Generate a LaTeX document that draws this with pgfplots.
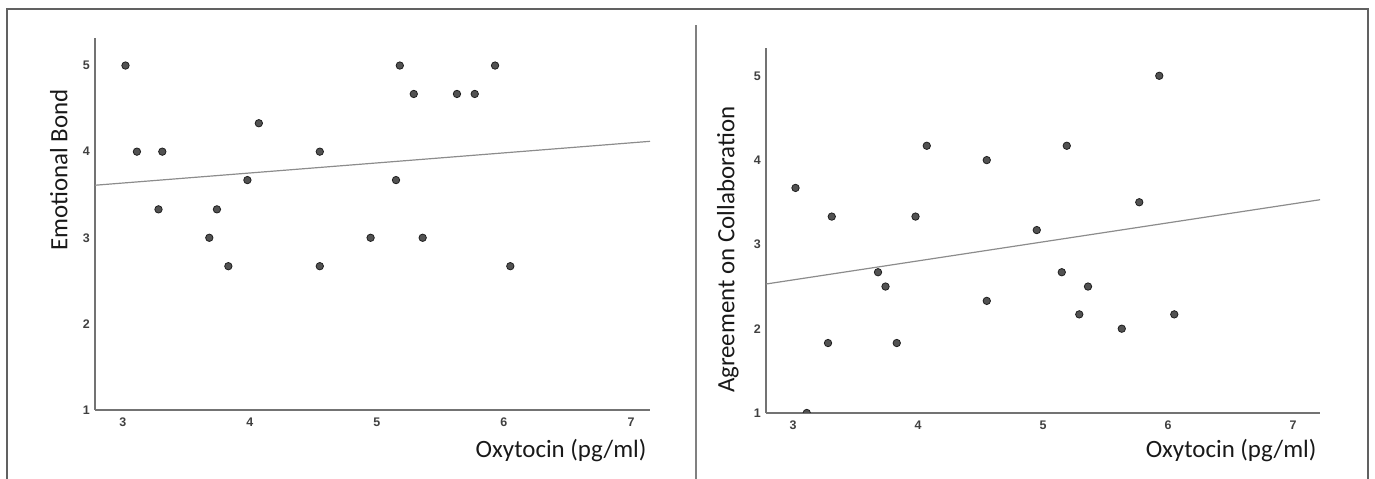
\documentclass[border=0pt]{standalone}
\usepackage{pgfplots}
\pgfplotsset{compat=1.18}
\usepackage{fontspec}
\setmainfont{Carlito}
\newfontfamily\tickfont{Liberation Sans}

\tikzset{lab/.style={font=\fontsize{25}{30}\selectfont, text=black!90}}
\pgfplotsset{
  panel/.style={
    scale only axis,
    axis x line=bottom, axis y line=left,
    axis line style={-, line width=1.5bp, color=black!55},
    major tick length=0pt,
    xtick={3,4,5,6,7}, ytick={1,2,3,4,5},
    ymin=1,
    clip marker paths=true,
    tick label style={font=\fontsize{12.5}{14}\selectfont\tickfont\bfseries, text=black!75, inner sep=0pt},
    xticklabel style={anchor=north, yshift=-8bp},
    yticklabel style={anchor=east, xshift=-5bp},
    /pgf/number format/assume math mode=true,
  },
  pts/.style={only marks, mark=*, mark size=3.7bp, mark options={fill=black!68, draw=black!88, line width=0.8bp}},
  fit/.style={no marks, line width=1.2bp, color=black!45},
}

\begin{document}
\begin{tikzpicture}[x=1bp,y=1bp]
\useasboundingbox (0,0) rectangle (1375,479);
% frame and divider
\draw[line width=2bp, color=black!62] (7,-5) -- (7,470) -- (1368,470) -- (1368,-5);
\draw[line width=2bp, color=black!50] (696,-5) -- (696,454);

% left panel
\begin{axis}[panel,
  at={(95bp,69bp)}, anchor=south west,
  width=555bp, height=372bp,
  xmin=2.78, xmax=7.15, ymax=5.32,
  xlabel={Oxytocin (pg/ml)}, ylabel={Emotional Bond},
  every axis x label/.style={lab, at={(axis description cs:1,-0.11)}, anchor=east},
  every axis y label/.style={lab, at={(axis description cs:-0.065,0.645)}, rotate=90, anchor=center},
]
\addplot[pts] coordinates {
(3.02,5.00) (3.11,4.00) (3.31,4.00) (3.28,3.33) (3.74,3.33)
(3.68,3.00) (3.98,3.67) (4.07,4.33) (4.55,4.00) (4.55,2.67)
(3.83,2.67) (4.95,3.00) (5.15,3.67) (5.18,5.00) (5.29,4.67)
(5.36,3.00) (5.63,4.67) (5.77,4.67) (5.93,5.00) (6.05,2.67)
};
\addplot[fit] coordinates {(2.78,3.61) (7.15,4.12)};
\end{axis}

% right panel
\begin{axis}[panel,
  at={(766bp,66bp)}, anchor=south west,
  width=554bp, height=365bp,
  xmin=2.784, xmax=7.216, ymax=5.33,
  xlabel={Oxytocin (pg/ml)}, ylabel={Agreement on Collaboration},
  every axis x label/.style={lab, at={(axis description cs:1,-0.104)}, anchor=east},
  every axis y label/.style={lab, at={(axis description cs:-0.069,0.447)}, rotate=90, anchor=center},
]
\addplot[pts] coordinates {
(3.02,3.67) (3.31,3.33) (3.98,3.33) (4.07,4.17) (4.55,4.00)
(5.19,4.17) (4.95,3.17) (5.77,3.50) (5.93,5.00) (3.11,1.00)
(3.28,1.83) (3.68,2.67) (3.74,2.50) (3.83,1.83) (4.55,2.33)
(5.15,2.67) (5.36,2.50) (5.29,2.17) (5.63,2.00) (6.05,2.17)
};
\addplot[fit] coordinates {(2.784,2.53) (7.216,3.53)};
\end{axis}
\end{tikzpicture}
\end{document}
